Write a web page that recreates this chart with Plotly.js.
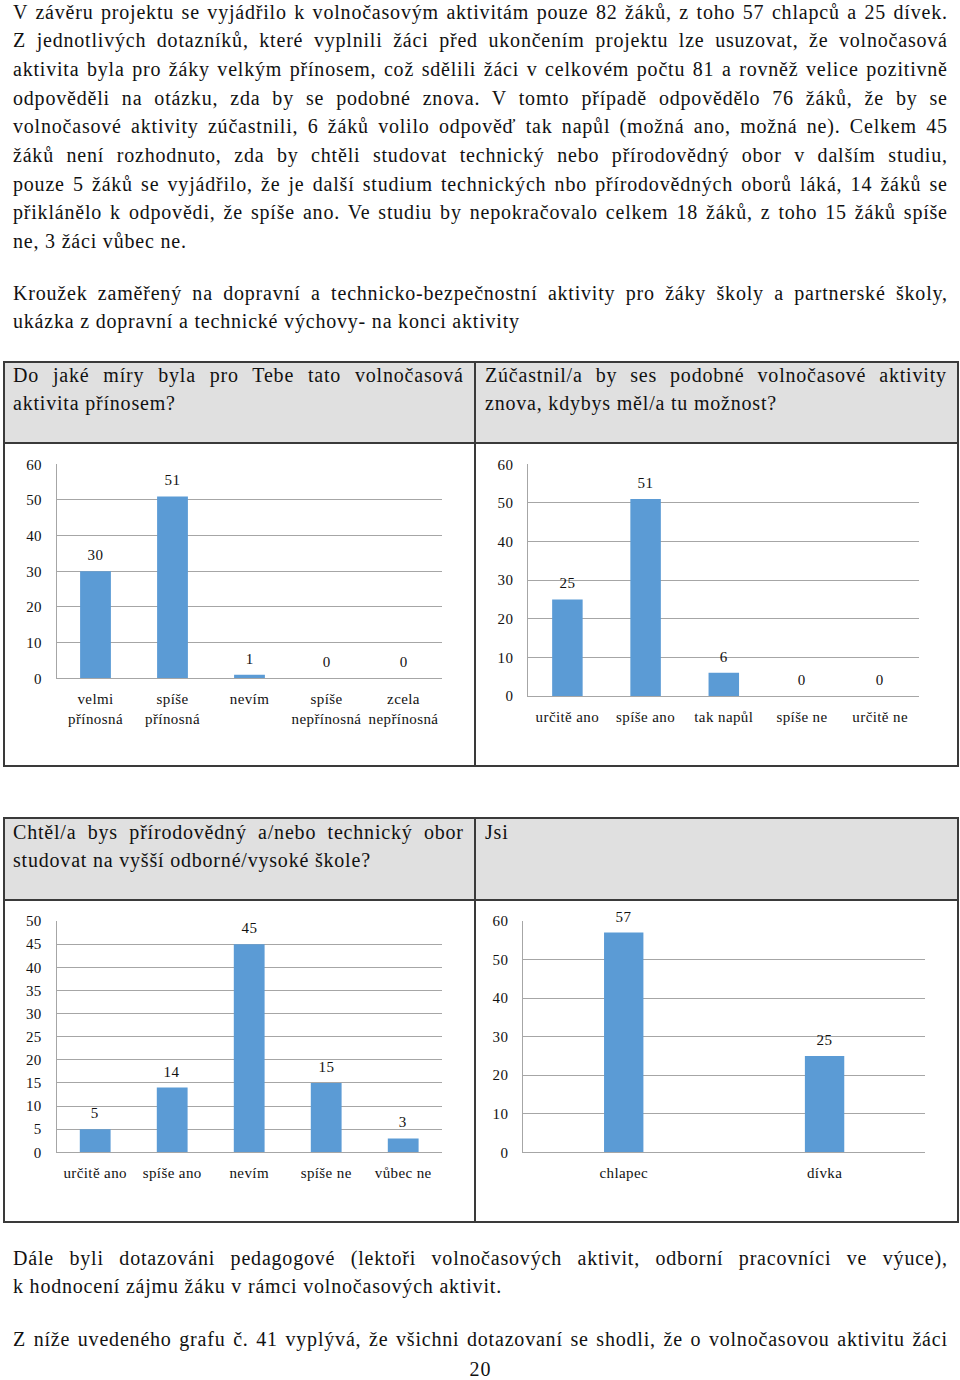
<!DOCTYPE html>
<html><head><meta charset="utf-8">
<script src="https://cdn.plot.ly/plotly-3.0.1.min.js"></script>
<style>
html,body{margin:0;padding:0;background:#fff;}
#page{position:relative;width:960px;height:1380px;overflow:hidden;font-family:'Liberation Serif',serif;color:#111;}
.ln{position:absolute;font-size:20px;line-height:28px;height:28px;white-space:nowrap;letter-spacing:0.8px;}
.ln span{display:inline-block;transform-origin:0 50%;}
.bx{position:absolute;}
#plot{position:absolute;left:0;top:0;width:960px;height:1380px;z-index:5;}
#plot svg text{letter-spacing:0.4px;}
</style></head><body><div id="page"><div id="plot"></div></div>
<script>
// ---------- text content ----------
const introLines = [
 ["V závěru projektu se vyjádřilo k volnočasovým aktivitám pouze 82 žáků, z toho 57 chlapců a 25 dívek.", true],
 ["Z jednotlivých dotazníků, které vyplnili žáci před ukončením projektu lze usuzovat, že volnočasová", true],
 ["aktivita byla pro žáky velkým přínosem, což sdělili žáci v celkovém počtu 81 a rovněž velice pozitivně", true],
 ["odpověděli na otázku, zda by se podobné znova. V tomto případě odpovědělo 76 žáků, že by se", true],
 ["volnočasové aktivity zúčastnili, 6 žáků volilo odpověď tak napůl (možná ano, možná ne). Celkem 45", true],
 ["žáků není rozhodnuto, zda by chtěli studovat technický nebo přírodovědný obor v dalším studiu,", true],
 ["pouze 5 žáků se vyjádřilo, že je další studium technických nbo přírodovědných oborů láká, 14 žáků se", true],
 ["přiklánělo k odpovědi, že spíše ano. Ve studiu by nepokračovalo celkem 18 žáků, z toho 15 žáků spíše", true],
 ["ne, 3 žáci vůbec ne.", false]
];
const krouzekLines = [
 ["Kroužek zaměřený na dopravní a technicko-bezpečnostní aktivity pro žáky školy a partnerské školy,", true],
 ["ukázka z dopravní a technické výchovy- na konci aktivity", false]
];
const q1Lines = [["Do jaké míry byla pro Tebe tato volnočasová", true], ["aktivita přínosem?", false]];
const q2Lines = [["Zúčastnil/a by ses podobné volnočasové aktivity", true], ["znova, kdybys měl/a tu možnost?", false]];
const q3Lines = [["Chtěl/a bys přírodovědný a/nebo technický obor", true], ["studovat na vyšší odborné/vysoké škole?", false]];
const q4Lines = [["Jsi", false]];
const outroLines = [
 ["Dále byli dotazováni pedagogové (lektoři volnočasových aktivit, odborní pracovníci ve výuce),", true],
 ["k hodnocení zájmu žáku v rámci volnočasových aktivit.", false]
];
const outro2Lines = [["Z níže uvedeného grafu č. 41 vyplývá, že všichni dotazovaní se shodli, že o volnočasovou aktivitu žáci", true]];
const pageNumber = "20";

// ---------- chart data ----------
const cats1 = ["velmi<br>přínosná", "spíše<br>přínosná", "nevím", "spíše<br>nepřínosná", "zcela<br>nepřínosná"];
const vals1 = [30, 51, 1, 0, 0];
const cats2 = ["určitě ano", "spíše ano", "tak napůl", "spíše ne", "určitě ne"];
const vals2 = [25, 51, 6, 0, 0];
const cats3 = ["určitě ano", "spíše ano", "nevím", "spíše ne", "vůbec ne"];
const vals3 = [5, 14, 45, 15, 3];
const cats4 = ["chlapec", "dívka"];
const vals4 = [57, 25];

const page = document.getElementById('page');
function addBox(l, t, w, h, bg){
  const d = document.createElement('div'); d.className='bx';
  d.style.left=l+'px'; d.style.top=t+'px'; d.style.width=w+'px'; d.style.height=h+'px'; d.style.background=bg;
  page.appendChild(d);
}
function addLine(text, x, w, base, just, center){
  const d = document.createElement('div'); d.className='ln';
  d.style.top=(base-20.75)+'px';
  const s = document.createElement('span'); s.textContent=text; d.appendChild(s); page.appendChild(d);
  const nat = s.getBoundingClientRect().width - 0.8;
  if(center){ d.style.left=(x + (w-nat)/2)+'px'; return; }
  d.style.left=x+'px';
  const n = (text.match(/ /g)||[]).length;
  if(just && nat < w && n>0){ s.style.wordSpacing=((w-nat)/n)+'px'; }
  else if(nat > w){ s.style.transform='scaleX('+(w/nat)+')'; }
}
function addBlock(lines, x, w, base0, step){
  lines.forEach((l,i)=>addLine(l[0], x, w, base0+i*step, l[1], false));
}
function table(top, mid, bottom){
  const L=3, R=957, C=474, B='#3a3a3a', T=1.5;
  addBox(L, top, R-L, mid-top, '#e0e0e0');
  addBox(L, top, R-L, T, B); addBox(L, mid, R-L, T, B); addBox(L, bottom, R-L+T, T, B);
  addBox(L, top, T, bottom-top, B); addBox(C, top, T, bottom-top, B); addBox(R, top, T, bottom-top, B);
}

function build(){
  addBlock(introLines, 13, 934, 18.3, 28.7);
  addBlock(krouzekLines, 13, 934, 299.5, 28.7);
  table(361, 442, 765);
  table(817, 899, 1221);
  addBlock(q1Lines, 13, 450, 381.7, 28.5);
  addBlock(q2Lines, 485, 461, 381.7, 28.5);
  addBlock(q3Lines, 13, 450, 838.3, 28.5);
  addBlock(q4Lines, 485, 461, 838.3, 28.5);
  addBlock(outroLines, 13, 934, 1264.5, 28.7);
  addBlock(outro2Lines, 13, 934, 1345.5, 28.7);
  addLine(pageNumber, 0, 960, 1376, false, true);

  const W=960, H=1380;
  const dx=(a,b)=>[a/W, b/W];
  const dy=(t,b)=>[1-b/H, 1-t/H];
  const fnt = {family:"'Liberation Serif', serif", size:15, color:'#111'};
  const grid = '#a6a6a6';
  const blue = '#5b9bd5';
  function yax(dom, anchor, maxv, step){
    return {domain:dom, anchor:anchor, range:[0,maxv], dtick:step, tick0:0, showgrid:true, gridcolor:grid, gridwidth:1,
      zeroline:false, showline:true, linecolor:grid, linewidth:1, ticks:'outside', ticklen:11, tickcolor:'rgba(0,0,0,0)',
      tickfont:fnt, fixedrange:true};
  }
  function xax(dom, anchor){
    return {domain:dom, anchor:anchor, type:'category', showgrid:false, zeroline:false, showline:true, linecolor:grid, linewidth:1,
      ticks:'outside', ticklen:7, tickcolor:'rgba(0,0,0,0)', tickfont:fnt, fixedrange:true};
  }
  const sets = [
    {c:cats1, v:vals1, x:'x', y:'y', w:0.4},
    {c:cats2, v:vals2, x:'x2', y:'y2', w:0.39},
    {c:cats3, v:vals3, x:'x3', y:'y3', w:0.4},
    {c:cats4, v:vals4, x:'x4', y:'y4', w:0.196}
  ];
  const traces = sets.map(s=>({type:'bar', x:s.c, y:s.v, xaxis:s.x, yaxis:s.y, width:s.w,
    marker:{color:blue, line:{width:0}}, hoverinfo:'none', showlegend:false}));
  const annotations = [];
  sets.forEach(s=>{
    s.c.forEach((c,i)=>annotations.push({xref:s.x, yref:s.y, x:c, y:s.v[i], text:String(s.v[i]), showarrow:false,
      yanchor:'bottom', yshift:6, font:fnt}));
  });
  const layout = {
    width:W, height:H, margin:{l:0,r:0,t:0,b:0}, autosize:false,
    paper_bgcolor:'rgba(0,0,0,0)', plot_bgcolor:'rgba(0,0,0,0)', showlegend:false,
    font:fnt, bargap:0.6,
    xaxis: xax(dx(57,442), 'y'),   yaxis: yax(dy(464.3,678.3), 'x', 60, 10),
    xaxis2: xax(dx(528.3,919.3), 'y2'), yaxis2: yax(dy(464.3,696), 'x2', 60, 10),
    xaxis3: xax(dx(56.7,441.7), 'y3'), yaxis3: yax(dy(921,1152.3), 'x3', 50, 5),
    xaxis4: xax(dx(523.3,925), 'y4'), yaxis4: yax(dy(921,1152.3), 'x4', 60, 10),
    annotations: annotations
  };
  Plotly.newPlot('plot', traces, layout, {staticPlot:true, displayModeBar:false});
}
if(document.fonts && document.fonts.ready){ document.fonts.ready.then(build); } else { build(); }
</script></body></html>
